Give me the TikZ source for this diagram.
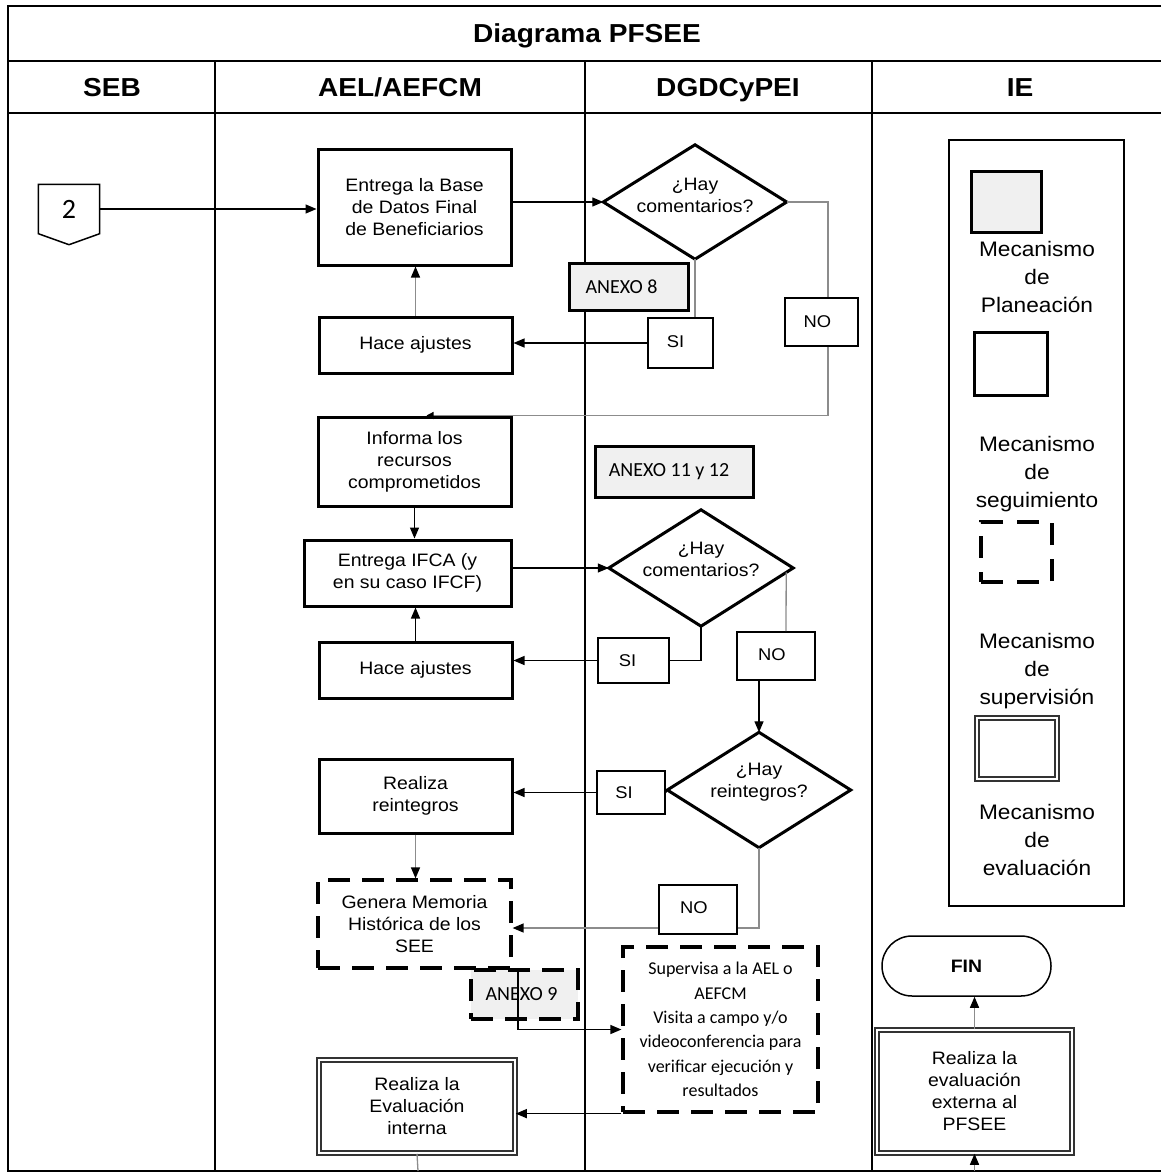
\documentclass[tikz,border=0pt]{standalone}
\usepackage{fontspec}
\setmainfont{Liberation Sans}[FakeStretch=1.08]
\newfontfamily\calfont{Carlito}
\usetikzlibrary{shapes.geometric,arrows.meta}
\tikzset{
 every node/.style={inner sep=0pt},
 base/.style={draw, align=center, font=\fontsize{18}{22}\selectfont},
 proc/.style={base, rectangle, line width=3pt},
 plan/.style={proc, fill=gray!12, font=\calfont\fontsize{20}{24}\selectfont},
 segbox/.style={base, rectangle, line width=3.2pt, dash pattern=on 22pt off 12pt},
 evalbox/.style={base, rectangle, double, double distance=2.2pt, line width=1.5pt, draw=black!80},
 decis/.style={rectangle, align=center, font=\fontsize{18}{22}\selectfont},
 dline/.style={line width=3pt, line join=miter},
 lbl/.style={draw, rectangle, line width=1.6pt, font=\fontsize{17}{20}\selectfont},
 conn/.style={line width=1.3pt},
 gconn/.style={line width=1.3pt, draw=black!45},
 arr/.style={-{Triangle[length=11pt,width=9pt,color=black]}},
 legtxt/.style={align=center, font=\fontsize{21}{28}\selectfont},
 hdr/.style={font=\bfseries\fontsize{26}{28}\selectfont, text height=19pt, text depth=5pt},
 frame/.style={line width=2.5pt},
 divider/.style={line width=2pt},
}
\begin{document}
\begin{tikzpicture}[x=1pt,y=-1pt]
\useasboundingbox (0,0) rectangle (1161,1174);
% frame and lanes
\draw[frame] (1161,6) -- (8,6) -- (8,1171) -- (1161,1171);
\draw[frame] (8,61) -- (1161,61);
\draw[frame] (8,113) -- (1161,113);
\draw[divider] (215,61) -- (215,1171);
\draw[divider] (585,61) -- (585,1171);
\draw[divider] (872,61) -- (872,1171);
\node[hdr] (title) at (587,36) {Diagrama PFSEE};
\node[hdr] (hseb) at (112,90) {SEB};
\node[hdr] (hael) at (400,90) {AEL/AEFCM};
\node[hdr] (hdg) at (728,90) {DGDCyPEI};
\node[hdr] (hie) at (1020,90) {IE};

% nodes
\node[minimum width=61pt, minimum height=49pt, font=\calfont\fontsize{28}{28}\selectfont] (c2) at (69,209) {2};
\draw[line width=1.5pt] (c2.north west) -- (c2.north east) -- (c2.south east) -- ([yshift=-11pt]c2.south) -- (c2.south west) -- cycle;

\node[proc, minimum width=193pt, minimum height=115pt] (ent1) at (414.5,207.5) {Entrega la Base\\de Datos Final\\de Beneficiarios};
\node[decis, minimum width=183pt, minimum height=114pt] (d1) at (695,202) {¿Hay\\comentarios?\\[-8pt]};
\draw[dline] (d1.north) -- (d1.east) -- (d1.south) -- (d1.west) -- cycle;
\node[plan, minimum width=119pt, minimum height=47pt] (anx8) at (628.5,286.5) {\raisebox{-6pt}{ANEXO 8}\hspace*{14pt}};
\node[lbl, minimum width=65pt, minimum height=50pt] (si1) at (680.5,343) {\raisebox{3pt}{SI}\hspace*{10pt}};
\node[lbl, minimum width=73pt, minimum height=48pt] (no1) at (821.5,322) {NO\hspace*{8pt}};
\node[proc, minimum width=193pt, minimum height=56pt] (aj1) at (415.5,345) {Hace ajustes};

\node[proc, minimum width=193pt, minimum height=89pt] (inf) at (414.5,461.5) {Informa los\\recursos\\comprometidos};
\node[plan, minimum width=158pt, minimum height=51pt] (anx11) at (674,471.5) {\raisebox{-3pt}{ANEXO 11 y 12}\hspace*{10pt}};
\node[proc, minimum width=207pt, minimum height=66pt] (ifca) at (407.5,573) {Entrega IFCA (y\\en su caso IFCF)};
\node[decis, minimum width=184pt, minimum height=116pt] (d2) at (701,568) {¿Hay\\comentarios?\\[-4pt]};
\draw[dline] (d2.north) -- (d2.east) -- (d2.south) -- (d2.west) -- cycle;
\node[lbl, minimum width=71pt, minimum height=45pt] (si2) at (633.5,660.5) {SI\hspace*{12pt}};
\node[proc, minimum width=193pt, minimum height=56pt] (aj2) at (415.5,670) {Hace ajustes};
\node[lbl, minimum width=78pt, minimum height=48pt] (no2) at (776,656) {\raisebox{3pt}{NO}\hspace*{8pt}};

\node[decis, minimum width=183pt, minimum height=115pt] (d3) at (759,790) {¿Hay\\reintegros?\\[-2pt]};
\draw[dline] (d3.north) -- (d3.east) -- (d3.south) -- (d3.west) -- cycle;
\node[lbl, minimum width=68pt, minimum height=43pt] (si3) at (631,792.5) {SI\hspace*{14pt}};
\node[proc, minimum width=193pt, minimum height=74pt] (rr) at (415.5,796) {Realiza\\reintegros};
\node[segbox, minimum width=193pt, minimum height=88pt] (gen) at (414.5,924) {Genera Memoria\\Histórica de los\\SEE};
\node[lbl, minimum width=78pt, minimum height=49pt] (no3) at (698,909.5) {\raisebox{3pt}{NO}\hspace*{8pt}};
\node[segbox, fill=gray!12, minimum width=107pt, minimum height=49pt, font=\calfont\fontsize{20}{24}\selectfont] (anx9) at (524.5,994.5) {ANEXO 9\hspace*{6pt}};
\node[segbox, minimum width=195pt, minimum height=165pt, font=\calfont\fontsize{18}{24.3}\selectfont] (sup) at (720.5,1029.5) {Supervisa a la AEL o\\AEFCM\\Visita a campo y/o\\videoconferencia para\\verificar ejecución y\\resultados};
\node[evalbox, minimum width=196pt, minimum height=93pt] (evi) at (417,1106.5) {Realiza la\\Evaluación\\interna};

% legend
\node[draw, line width=1.5pt, minimum width=175pt, minimum height=766pt] (leg) at (1036.5,523) {};
\node[draw, line width=3pt, fill=gray!12, minimum width=70pt, minimum height=61pt] (lg1) at (1006,202.5) {};
\node[legtxt] (lt1) at (1037,277) {Mecanismo\\de\\Planeación};
\node[draw, line width=3pt, minimum width=73pt, minimum height=63pt] (lg2) at (1010.5,363.5) {};
\node[legtxt] (lt2) at (1037,474) {Mecanismo\\de\\seguimiento};
\node[draw, line width=3.5pt, dash pattern=on 22pt off 14pt, minimum width=71pt, minimum height=60pt] (lg3) at (1016.5,552) {};
\node[legtxt] (lt3) at (1037,671) {Mecanismo\\de\\supervisión};
\node[draw=black!80, double, double distance=2.2pt, line width=1.5pt, minimum width=80pt, minimum height=61pt] (lg4) at (1017,748.5) {};
\node[legtxt] (lt4) at (1037,840) {Mecanismo\\de\\evaluación};

\node[draw, line width=1.5pt, rectangle, rounded corners=30pt, minimum width=169pt, minimum height=60pt, font=\bfseries\fontsize{18}{20}\selectfont] (fin) at (966.5,966) {FIN};
\node[evalbox, minimum width=195pt, minimum height=123pt] (eve) at (974.5,1091.5) {Realiza la\\evaluación\\externa al\\PFSEE};

\coordinate (b1) at (418,1171);
\coordinate (b2) at (974.5,1171);

% connectors
\draw[conn, arr] (c2.east) -- (c2.east -| ent1.west);
\draw[conn, arr] (ent1.east |- d1.west) -- (d1.west);
\draw[gconn] (d1.south) -- (d1.south |- si1.north);
\draw[conn, arr] (si1.west) -- (si1.west -| aj1.east);
\draw[gconn, arr] (aj1.north) -- (aj1.north |- ent1.south);
\draw[gconn] (d1.east) -| ([xshift=6.5pt]no1.north);
\draw[gconn, -{Triangle[length=7pt,width=7pt,color=black]}] ([xshift=6.5pt]no1.south) |- ([xshift=12pt]inf.north);

\draw[conn, arr] (inf.south) -- (inf.south |- ifca.north);
\draw[conn, arr] (ifca.east |- d2.west) -- (d2.west);
\draw[conn] (d2.south) |- (si2.east);
\draw[conn, arr] (si2.west) -- (si2.west -| aj2.east);
\draw[conn, arr] (aj2.north) -- (aj2.north |- ifca.south);
\draw[gconn] ([xshift=-7pt,yshift=-4.4pt]d2.east) -- ([xshift=10pt]no2.north);
\draw[conn, arr] (d3.north |- no2.south) -- (d3.north);

\draw[conn] (d3.west) -- (si3.east);
\draw[conn, arr] (si3.west) -- (si3.west -| rr.east);
\draw[gconn, arr] (rr.south) -- (rr.south |- gen.north);
\draw[gconn] (d3.south) |- ([yshift=-18.5pt]no3.east);
\draw[gconn, arr] ([yshift=-18.5pt]no3.west) -- ([yshift=-18.5pt]no3.west -| gen.east);
\draw[conn, arr] ([xshift=-6.5pt]anx9.north) |- (sup.west);
\draw[conn, arr] (sup.south west) -- (sup.south west -| evi.east);
\draw[gconn] (evi.south) -- (b1);

\draw[gconn, arr] (eve.north) -- (eve.north |- fin.south);
\draw[gconn, arr] (b2) -- (eve.south);
\end{tikzpicture}
\end{document}
